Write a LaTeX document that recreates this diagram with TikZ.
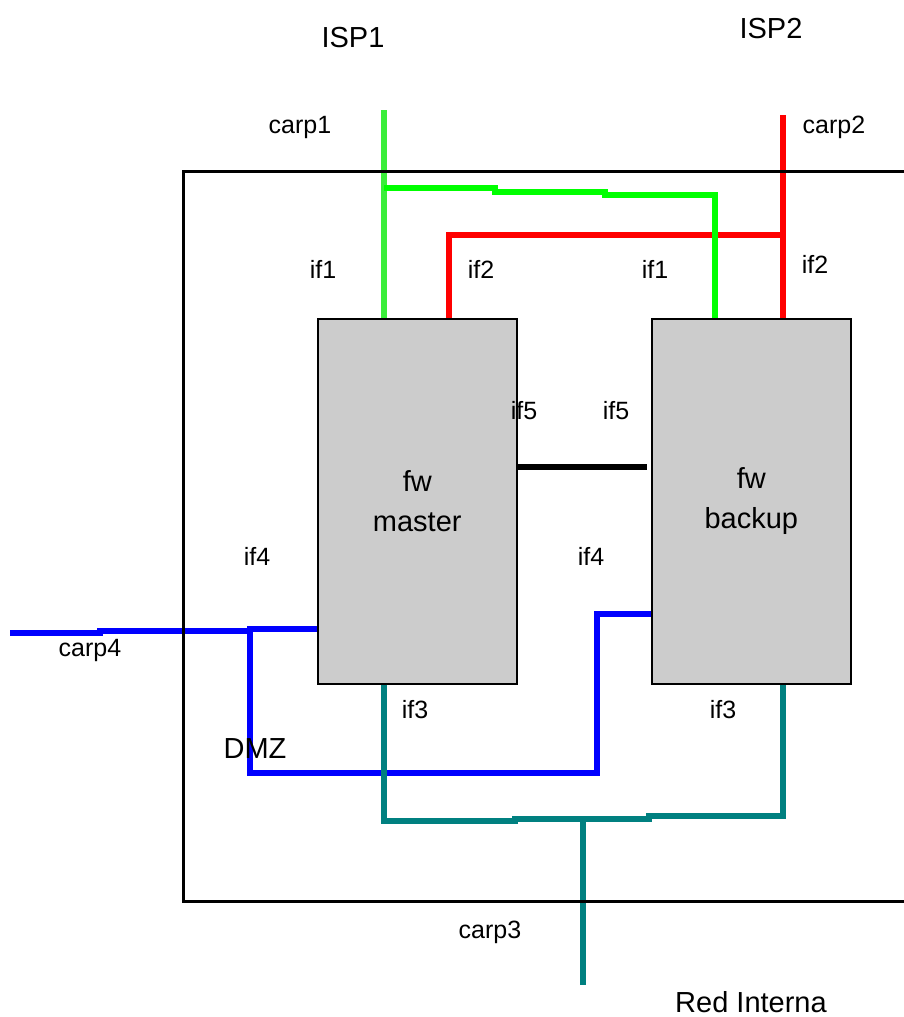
\documentclass[tikz,border=0pt]{standalone}
\usepackage{fontspec}
\setmainfont{Liberation Sans}
\definecolor{lgreen}{HTML}{00FF00}
\definecolor{lgreenb}{HTML}{3AEE3A}
\definecolor{lred}{HTML}{FF0000}
\definecolor{lblue}{HTML}{0000FF}
\definecolor{lteal}{HTML}{008080}
\definecolor{boxgray}{HTML}{CCCCCC}
\begin{document}
\begin{tikzpicture}[x=1pt,y=-1pt,
  fwbox/.style={draw=black, line width=1.5pt, fill=boxgray, minimum width=199pt, minimum height=365pt, anchor=north west, inner sep=0pt, align=center, font=\fontsize{29}{40}\selectfont},
  lbl/.style={font=\fontsize{25}{30}\selectfont, inner sep=0pt, anchor=base},
  biglbl/.style={font=\fontsize{29}{34}\selectfont, inner sep=0pt, anchor=base},
  net/.style={line width=6pt, line cap=butt, line join=miter},
  frame/.style={draw=black, line width=3pt}]
\useasboundingbox (0,0) rectangle (903,1017);

% firewalls
\node[fwbox] (master) at (317,318) {fw\\master};
\node[fwbox] (backup) at (651,318) {fw\\backup};

% free ends
\coordinate (isp1) at (384,110);
\coordinate (isp2) at (783,115);
\coordinate (carp4end) at (10,633);
\coordinate (carp3end) at (583,985);

% red (ISP2)
\draw[net, lred] (isp2) -- (isp2 |- backup.north);
\draw[net, lred] (783,235) -- (449,235) -- ({449,0} |- master.north);

% green (ISP1)
\draw[net, lgreenb] (isp1) -- (isp1 |- master.north);
\draw[net, lgreen] (384,188) -- (495,188) -- (495,192) -- (605,192) -- (605,195) -- (715,195) -- ({715,0} |- backup.north);

% if5 link
\draw[net, black] (master.east |- {0,467}) -- (647,467);

% blue (DMZ)
\draw[net, lblue] (carp4end) -- (100,633) -- (100,631) -- (250,631) -- (250,629) -- (master.west |- {0,629});
\draw[net, lblue] (250,629) -- (250,773) -- (597,773) -- (597,614) -- (backup.west |- {0,614});

% teal (internal)
\draw[net, lteal] ({384,0} |- master.south) -- (384,821) -- (515,821) -- (515,819) -- (649,819) -- (649,816) -- (783,816) -- ({783,0} |- backup.south);
\draw[net, lteal] (583,819) -- (carp3end);

% outer frame
\draw[frame] (910,171) -- (183,171) -- (183,901) -- (910,901);

% labels
\node[biglbl] (tisp1) at (353,47) {ISP1};
\node[biglbl] (tisp2) at (771,38) {ISP2};
\node[lbl] (tcarp1) at (300,133) {carp1};
\node[lbl] (tcarp2) at (834,133) {carp2};
\node[lbl] (tif1a) at (323,278) {if1};
\node[lbl] (tif2a) at (481,278) {if2};
\node[lbl] (tif1b) at (655,278) {if1};
\node[lbl] (tif2b) at (815,273) {if2};
\node[lbl] (tif5a) at (524,419) {if5};
\node[lbl] (tif5b) at (616,419) {if5};
\node[lbl] (tif4a) at (257,565) {if4};
\node[lbl] (tif4b) at (591,565) {if4};
\node[lbl] (tcarp4) at (90,656) {carp4};
\node[lbl] (tif3a) at (415,718) {if3};
\node[lbl] (tif3b) at (723,718) {if3};
\node[biglbl] (tdmz) at (255,758) {DMZ};
\node[lbl] (tcarp3) at (490,938) {carp3};
\node[biglbl, text depth=0pt] (tred) at (751,1012) {Red Interna};
\end{tikzpicture}
\end{document}
